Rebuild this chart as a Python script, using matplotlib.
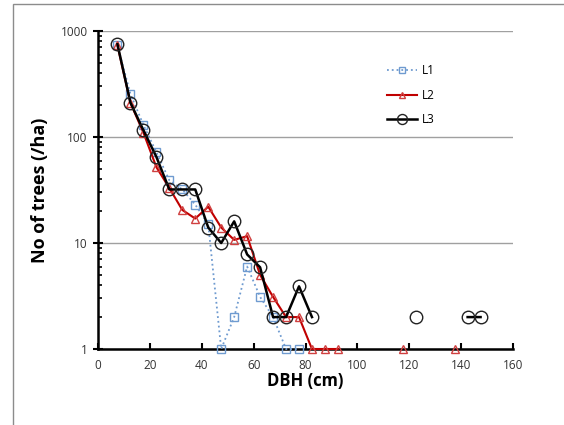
import numpy as np
import matplotlib.pyplot as plt
from matplotlib.patches import Rectangle

plt.rcParams['font.family'] = ['Open Sans', 'DejaVu Sans']

# dados (classes de DBH de 5 cm, ponto central)
x_l1 = [7.5, 12.5, 17.5, 22.5, 27.5, 32.5, 37.5, 42.5, 47.5, 52.5, 57.5, 62.5, 67.5, 72.5, 77.5]
n_l1 = [730, 255, 130, 72, 39, 32, 23, 15, 1, 2, 6, 3.1, 2, 1, 1]

x_l2 = [7.5, 12.5, 17.5, 22.5, 27.5, 32.5, 37.5, 42.5, 47.5, 52.5, 57.5, 62.5, 67.5, 72.5,
        77.5, 82.5, 87.5, 92.5, 97.5, 117.5, 122.5, 137.5]
n_l2 = [730, 210, 110, 52, 33, 20.5, 17, 22, 14, 10.7, 11.6, 5, 3.1, 2,
        2, 1, 1, 1, np.nan, 1, np.nan, 1]

x_l3 = [7.5, 12.5, 17.5, 22.5, 27.5, 32.5, 37.5, 42.5, 47.5, 52.5, 57.5, 62.5, 67.5, 72.5,
        77.5, 82.5, 87.5, 122.5, 127.5, 142.5, 147.5]
n_l3 = [750, 211, 116, 65, 32, 32, 32, 14, 10, 16, 7.8, 5.9, 2, 2,
        3.9, 2, np.nan, 2, np.nan, 2, 2]

fig = plt.figure(figsize=(5.64, 4.25), dpi=100)
fig.patches.append(Rectangle((13 / 564, -0.1), 1.0, (425 - 4) / 425 + 0.1,
                             transform=fig.transFigure, fill=False,
                             edgecolor='#8c8c8c', lw=1))
ax = fig.add_axes([98 / 564, (425 - 349) / 425, (513 - 98) / 564, (349 - 31) / 425])

ax.plot(x_l1, n_l1, ls=':', color='#6f9bd0', lw=1.3, marker='s', ms=5.5,
        mfc='none', mec='#6f9bd0', mew=1, label='L1', clip_on=False, zorder=3)
ax.plot(x_l2, n_l2, ls='-', color='#c00000', lw=1.5, marker='^', ms=5.5,
        mfc='none', mec='#d04040', mew=1, label='L2', clip_on=False, zorder=4)
ax.plot(x_l3, n_l3, ls='-', color='black', lw=1.8, marker='o', ms=9,
        mfc='none', mec='#222222', mew=1, label='L3', clip_on=False, zorder=5)

ax.set_yscale('log')
ax.set_ylim(1, 1000)
ax.set_xlim(0, 160)
ax.set_xticks(range(0, 161, 20))
ax.set_yticks([1, 10, 100, 1000])
ax.set_yticklabels(['1', '10', '100', '1000'])

ax.grid(axis='y', which='major', color='#a0a0a0', lw=1)
ax.set_axisbelow(True)
for s in ['top', 'right']:
    ax.spines[s].set_visible(False)
ax.spines['left'].set_linewidth(1.8)
ax.spines['bottom'].set_linewidth(1.8)

ax.tick_params(axis='y', which='major', direction='inout', length=7, width=1.5,
               labelsize=8.5, pad=4, colors='black', labelcolor='#333333')
ax.tick_params(axis='y', which='minor', direction='in', length=3, width=1.2)
ax.tick_params(axis='x', which='major', direction='in', length=4, width=1.5,
               labelsize=8.5, pad=7, labelcolor='#333333')

ax.set_xlabel('DBH (cm)', fontsize=12, fontweight='bold', labelpad=0)
ax.set_ylabel('No of trees (/ha)', fontsize=13, fontweight='bold', labelpad=8)

ax.legend(loc='upper left', bbox_to_anchor=(0.67, 0.93), frameon=False,
          fontsize=8.5, handlelength=2.6, labelspacing=1.0, handletextpad=0.4,
          markerscale=0.8)

fig.savefig('out.png', dpi=100)
